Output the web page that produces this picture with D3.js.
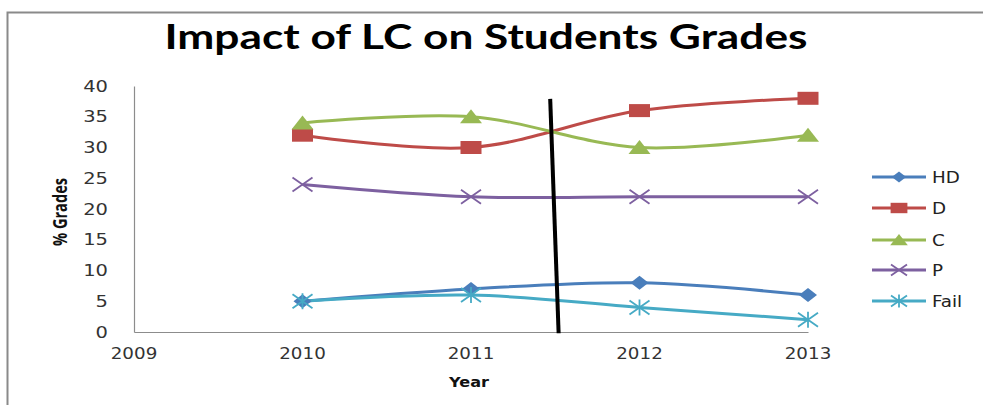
<!DOCTYPE html>
<html>
<head>
<meta charset="utf-8">
<script src="https://cdn.jsdelivr.net/npm/d3@7"></script>
<style>
  html, body { margin: 0; padding: 0; background: #fff; }
  svg { display: block; }
</style>
</head>
<body>
<svg id="chart" width="983" height="405"></svg>
<script>
// Data
const years = [2010, 2011, 2012, 2013];
const hd = [5, 7, 8, 6];
const d = [32, 30, 36, 38];
const c = [34, 35, 30, 32];
const p = [24, 22, 22, 22];
const fail = [5, 6, 4, 2];
const seriesNames = ["HD", "D", "C", "P", "Fail"];
const xTicks = [2009, 2010, 2011, 2012, 2013];
const yTicks = [0, 5, 10, 15, 20, 25, 30, 35, 40];
// Hand-drawn divider between 2011 and 2012 (year, value)
const divider = [[2011.47, 37.9], [2011.52, -0.2]];

const series = [
  { name: "HD", values: hd, color: "#4a7ebb", marker: "diamond" },
  { name: "D", values: d, color: "#be4b48", marker: "square" },
  { name: "C", values: c, color: "#98b954", marker: "triangle" },
  { name: "P", values: p, color: "#7d60a0", marker: "x" },
  { name: "Fail", values: fail, color: "#46aac5", marker: "star" }
];

const svg = d3.select("#chart");

// Frame border
svg.append("path")
  .attr("d", "M7.5,405 L7.5,12.5 L983,12.5")
  .attr("fill", "none")
  .attr("stroke", "#8a8a8a")
  .attr("stroke-width", 2);

const x = d3.scaleLinear().domain([2009, 2013]).range([134, 808]);
const y = d3.scaleLinear().domain([0, 40]).range([332, 86]);

// Stretched text helper
function stretchedText(g, tx, ty, str, sx, opts) {
  const t = g.append("text")
    .attr("transform", `translate(${tx},${ty}) scale(${sx},1)`)
    .text(str);
  Object.entries(opts || {}).forEach(([k, v]) => t.attr(k, v));
  return t;
}

// Title
svg.append("text")
  .attr("x", 486).attr("y", 49)
  .attr("text-anchor", "middle")
  .attr("font-family", "Lato, 'Open Sans', sans-serif")
  .attr("font-weight", "bold")
  .attr("font-size", 35)
  .attr("textLength", 643)
  .attr("lengthAdjust", "spacingAndGlyphs")
  .attr("fill", "#000")
  .text("Impact of LC on Students Grades");

// Axes
const yAxis = d3.axisLeft(y).tickValues(yTicks).tickSize(0).tickPadding(0);
const xAxis = d3.axisBottom(x).tickValues(xTicks).tickSize(0).tickFormat(d3.format("d"));

const gy = svg.append("g").attr("transform", "translate(134,0)").call(yAxis);
gy.select(".domain").attr("stroke", "#8c8c8c").attr("stroke-width", 1.2);
gy.selectAll(".tick text").remove();
yTicks.forEach(v => {
  stretchedText(svg, 108, y(v) + 5.5, String(v), 1.3, {
    "text-anchor": "end", "font-family": "'DejaVu Sans', Verdana, sans-serif",
    "font-size": 15, "fill": "#333"
  });
});

const gx = svg.append("g").attr("transform", "translate(0,332)").call(xAxis);
gx.select(".domain").attr("stroke", "#8c8c8c").attr("stroke-width", 1.2);
gx.selectAll(".tick text").remove();
xTicks.forEach(v => {
  stretchedText(svg, x(v), 359, String(v), 1.22, {
    "text-anchor": "middle", "font-family": "'DejaVu Sans', Verdana, sans-serif",
    "font-size": 15, "fill": "#333"
  });
});

// Axis titles
stretchedText(svg, 469, 387, "Year", 1.15, {
  "text-anchor": "middle", "font-family": "'DejaVu Sans', Verdana, sans-serif",
  "font-weight": "bold", "font-size": 14, "fill": "#111"
});
svg.append("g")
  .attr("transform", "translate(67,212) rotate(-90)")
  .append("text")
  .attr("text-anchor", "middle")
  .attr("font-family", "'Liberation Sans Narrow', 'Open Sans', sans-serif")
  .attr("font-weight", "bold")
  .attr("font-size", 19)
  .attr("textLength", 68)
  .attr("lengthAdjust", "spacingAndGlyphs")
  .attr("fill", "#111")
  .text("% Grades");

// Markers (drawn wider than tall)
function drawMarker(g, type, color, cx, cy, k) {
  const m = g.append("g").attr("transform", `translate(${cx},${cy}) scale(${k || 1})`);
  if (type === "diamond") {
    m.append("path").attr("d", "M-9,0 L0,-7 L9,0 L0,7 Z").attr("fill", color);
  } else if (type === "square") {
    m.append("rect").attr("x", -10.5).attr("y", -6.5).attr("width", 21).attr("height", 13).attr("fill", color);
  } else if (type === "triangle") {
    m.append("path").attr("d", "M-11,6.5 L0,-7.5 L11,6.5 Z").attr("fill", color);
  } else if (type === "x") {
    m.append("path").attr("d", "M-10,-7 L10,7 M-10,7 L10,-7")
      .attr("stroke", color).attr("stroke-width", 1.8 / (k || 1)).attr("fill", "none");
  } else if (type === "star") {
    m.append("path").attr("d", "M-10,-7 L10,7 M-10,7 L10,-7 M0,-8 L0,8")
      .attr("stroke", color).attr("stroke-width", 1.8 / (k || 1)).attr("fill", "none");
  }
}

const line = d3.line()
  .x((v, i) => x(years[i]))
  .y(v => y(v))
  .curve(d3.curveCatmullRom.alpha(0.5));

const plot = svg.append("g");
series.forEach(s => {
  plot.append("path")
    .datum(s.values)
    .attr("d", line)
    .attr("fill", "none")
    .attr("stroke", s.color)
    .attr("stroke-width", 3);
});
series.forEach(s => {
  s.values.forEach((v, i) => drawMarker(plot, s.marker, s.color, x(years[i]), y(v)));
});

// Divider line
svg.append("path")
  .datum(divider)
  .attr("d", d3.line().x(p => x(p[0])).y(p => y(p[1])))
  .attr("stroke", "#000")
  .attr("stroke-width", 4)
  .attr("fill", "none");

// Legend
const legendY = [177, 208, 240, 270, 301];
series.forEach((s, i) => {
  const ly = legendY[i];
  svg.append("line")
    .attr("x1", 872).attr("x2", 926).attr("y1", ly).attr("y2", ly)
    .attr("stroke", s.color).attr("stroke-width", 3);
  drawMarker(svg, s.marker, s.color, 899, ly, 0.8);
  stretchedText(svg, 932, ly + 5.5, s.name, 1.22, {
    "font-family": "'DejaVu Sans', Verdana, sans-serif",
    "font-size": 15, "fill": "#222"
  });
});
</script>
</body>
</html>
